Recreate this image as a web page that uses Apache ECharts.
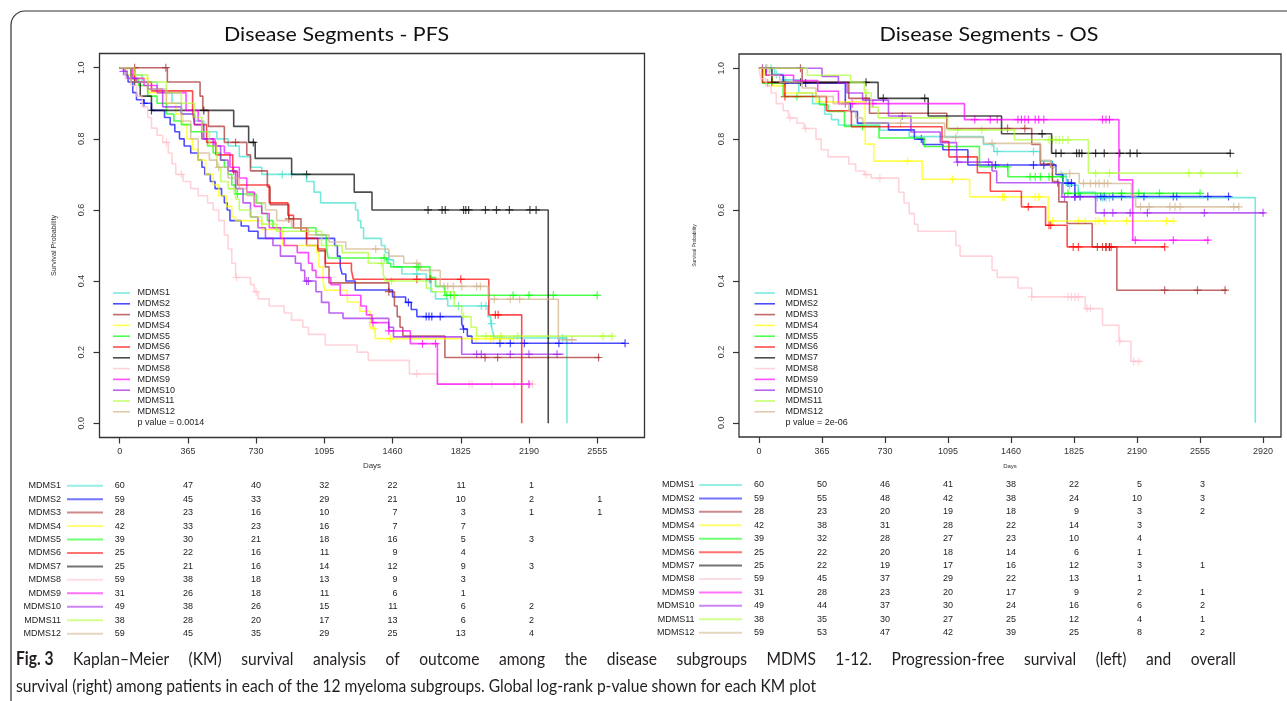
<!DOCTYPE html>
<html>
<head>
<meta charset="utf-8">
<script src="https://cdn.jsdelivr.net/npm/echarts@6/dist/echarts.min.js"></script>
<style>
  html, body { margin: 0; padding: 0; background: #fff; }
  #chart { width: 1287px; height: 701px; }
</style>
</head>
<body>
<div id="chart"></div>
<script>
// groups and colours
const groups = ['MDMS1','MDMS2','MDMS3','MDMS4','MDMS5','MDMS6','MDMS7','MDMS8','MDMS9','MDMS10','MDMS11','MDMS12'];
const colors = ['#40E0D0','#0000FF','#A52A2A','#FFFF00','#00FF00','#FF0000','#000000','#FFC0CB','#FF00FF','#A020F0','#ADFF2F','#D2B48C'];

// axis ticks
const pfsTicks = [0,365,730,1095,1460,1825,2190,2555];
const osTicks = [0,365,730,1095,1460,1825,2190,2555,2920];
const survTicks = [0,0.2,0.4,0.6,0.8,1.0];

// PFS step curves: [day, survival after step]
const pfs1 = [[0,1],[60,0.98],[120,0.96],[200,0.93],[280,0.9],[330,0.87],[400,0.85],[450,0.82],[520,0.8],[580,0.78],[640,0.75],[700,0.72],[760,0.7],[1000,0.68],[1040,0.65],[1075,0.62],[1262,0.6],[1275,0.57],[1290,0.55],[1305,0.52],[1400,0.5],[1420,0.48],[1440,0.46],[1465,0.44],[1510,0.42],[1640,0.4],[1665,0.37],[1690,0.35],[1755,0.33],[1970,0.3],[1985,0.28],[1995,0.26],[2005,0.24],[2393,0]];
const pfs2 = [[0,1],[30,0.98],[45,0.96],[70,0.93],[90,0.91],[130,0.9],[170,0.88],[240,0.86],[270,0.84],[295,0.82],[320,0.8],[345,0.78],[380,0.76],[420,0.74],[440,0.72],[455,0.7],[485,0.68],[510,0.66],[545,0.64],[560,0.62],[575,0.6],[590,0.57],[650,0.555],[690,0.54],[740,0.52],[1150,0.5],[1165,0.47],[1180,0.44],[1190,0.42],[1210,0.4],[1260,0.375],[1460,0.355],[1530,0.34],[1560,0.32],[1590,0.3],[1830,0.28],[1840,0.265],[1860,0.245],[1885,0.225],[2704,0.225]];
const pfs3 = [[0,1],[255,0.96],[430,0.92],[445,0.88],[475,0.835],[560,0.79],[680,0.755],[700,0.71],[790,0.665],[805,0.615],[905,0.575],[970,0.54],[1000,0.5],[1060,0.485],[1100,0.44],[1120,0.395],[1440,0.37],[1470,0.33],[1485,0.3],[1500,0.27],[1515,0.245],[1740,0.185],[2570,0.185]];
const pfs4 = [[0,1],[40,0.98],[80,0.97],[150,0.93],[250,0.9],[300,0.87],[340,0.84],[360,0.8],[390,0.77],[420,0.74],[460,0.7],[500,0.67],[530,0.64],[570,0.61],[600,0.58],[620,0.57],[760,0.545],[870,0.5],[1055,0.48],[1066,0.44],[1088,0.4],[1098,0.374],[1218,0.341],[1284,0.315],[1339,0.27],[1350,0.266],[1367,0.238],[2107,0.238]];
const pfs5 = [[0,1],[60,0.97],[100,0.95],[150,0.92],[200,0.9],[250,0.87],[290,0.85],[330,0.84],[380,0.82],[440,0.8],[470,0.78],[500,0.76],[540,0.74],[560,0.72],[580,0.7],[600,0.67],[620,0.645],[730,0.62],[760,0.59],[790,0.57],[820,0.55],[1050,0.53],[1105,0.5],[1115,0.465],[1430,0.45],[1450,0.44],[1660,0.41],[1690,0.385],[1740,0.36],[2555,0.36]];
const pfs6 = [[0,1],[80,0.96],[170,0.935],[390,0.88],[400,0.84],[465,0.79],[515,0.755],[605,0.707],[630,0.67],[800,0.62],[900,0.585],[930,0.55],[1000,0.52],[1060,0.49],[1100,0.45],[1240,0.43],[1250,0.405],[1975,0.305],[2151,0]];
const pfs7 = [[0,1],[60,0.96],[110,0.92],[170,0.88],[610,0.835],[690,0.79],[725,0.745],[920,0.7],[1255,0.65],[1350,0.6],[2293,0]];
const pfs8 = [[0,1],[30,0.97],[60,0.95],[90,0.92],[120,0.89],[150,0.86],[170,0.83],[200,0.81],[230,0.79],[260,0.76],[280,0.73],[300,0.7],[340,0.68],[380,0.66],[420,0.64],[470,0.62],[500,0.6],[530,0.57],[560,0.53],[580,0.49],[600,0.45],[620,0.41],[700,0.39],[720,0.37],[740,0.35],[800,0.33],[880,0.31],[920,0.29],[980,0.27],[1010,0.25],[1100,0.22],[1270,0.2],[1330,0.177],[1550,0.139],[1700,0.11],[2210,0.11]];
const pfs9 = [[0,1],[70,0.97],[130,0.95],[200,0.93],[355,0.88],[420,0.85],[440,0.8],[510,0.78],[560,0.76],[590,0.72],[640,0.69],[680,0.65],[720,0.61],[760,0.59],[800,0.55],[860,0.52],[880,0.5],[950,0.48],[1010,0.45],[1030,0.43],[1050,0.41],[1130,0.39],[1180,0.36],[1290,0.33],[1320,0.305],[1350,0.283],[1440,0.26],[1555,0.224],[1700,0.11],[2197,0.11]];
const pfs10 = [[0,1],[20,0.99],[40,0.97],[90,0.96],[150,0.94],[230,0.89],[330,0.87],[400,0.84],[450,0.8],[500,0.78],[540,0.74],[580,0.71],[620,0.66],[660,0.62],[700,0.58],[740,0.55],[780,0.52],[820,0.5],[860,0.47],[940,0.45],[970,0.43],[990,0.4],[1050,0.37],[1080,0.34],[1120,0.31],[1195,0.295],[1440,0.27],[1465,0.243],[1830,0.194],[2375,0.194]];
const pfs11 = [[0,1],[80,0.98],[150,0.96],[250,0.93],[330,0.9],[400,0.86],[440,0.82],[480,0.78],[520,0.72],[540,0.68],[580,0.66],[620,0.63],[640,0.6],[700,0.58],[760,0.56],[840,0.54],[1080,0.5],[1190,0.48],[1330,0.45],[1410,0.42],[1420,0.4],[1640,0.38],[1670,0.37],[1790,0.33],[1830,0.3],[1880,0.27],[1910,0.245],[2640,0.245]];
const pfs12 = [[0,1],[60,0.96],[150,0.94],[250,0.9],[330,0.85],[380,0.8],[420,0.76],[480,0.74],[520,0.72],[580,0.69],[640,0.66],[680,0.64],[720,0.62],[780,0.6],[840,0.57],[920,0.55],[1010,0.53],[1120,0.51],[1210,0.49],[1440,0.47],[1520,0.45],[1610,0.43],[1715,0.385],[1972,0.349],[2347,0.235],[2447,0.235]];

// PFS censoring days
const pfsCens1 = [870,920,1440,1590,1813,1935,1960,1990,2370];
const pfsCens2 = [130,1545,1640,1655,1670,1715,1840,2035,2090,2165,2350,2704];
const pfsCens3 = [80,247,620,905,1440,1955,2022,2562];
const pfsCens4 = [1360,1448,1906,1983,2000,2040,2107];
const pfsCens5 = [630,1415,1590,1600,1750,1770,1790,2105,2190,2320,2555];
const pfsCens6 = [1590,1660,1665,1825,2010,2025];
const pfsCens7 = [80,170,450,715,1000,1650,1725,1742,1840,1852,1867,1957,2016,2085,2195,2228];
const pfsCens8 = [250,330,625,730,1590,1870,1885,1990,2110,2190,2210];
const pfsCens9 = [1355,1440,1620,1690,2190];
const pfsCens10 = [20,610,1000,1010,1910,1935,2090,2190,2340];
const pfsCens11 = [610,1400,1455,1840,1960,2000,2040,2130,2585,2635];
const pfsCens12 = [530,1370,1590,1735,1755,1785,1830,1910,1930,2005,2090,2140,2390,2420];

// OS step curves
const os1 = [[0,1],[90,0.983],[140,0.967],[230,0.93],[310,0.9],[380,0.87],[420,0.855],[460,0.84],[700,0.825],[870,0.807],[1300,0.785],[1360,0.765],[1630,0.738],[1700,0.72],[1720,0.7],[1780,0.67],[1850,0.65],[1950,0.635],[2875,0]];
const os2 = [[0,1],[40,0.98],[140,0.958],[500,0.902],[530,0.878],[570,0.845],[750,0.826],[900,0.8],[950,0.785],[1065,0.77],[1210,0.727],[1720,0.7],[1760,0.676],[1830,0.638],[2735,0.638]];
const os3 = [[0,1],[250,0.96],[520,0.915],[640,0.873],[1088,0.83],[1580,0.785],[1630,0.73],[1700,0.68],[1737,0.623],[1785,0.562],[1930,0.496],[2073,0.374],[2710,0.374]];
const os4 = [[0,1],[30,0.98],[80,0.95],[150,0.93],[330,0.905],[615,0.786],[665,0.738],[945,0.687],[1220,0.637],[1675,0.569],[2410,0.569]];
const os5 = [[0,1],[20,0.958],[140,0.92],[350,0.897],[400,0.878],[495,0.836],[695,0.803],[957,0.779],[1277,0.722],[1442,0.694],[1762,0.647],[2556,0.647]];
const os6 = [[0,1],[20,0.96],[150,0.92],[390,0.88],[535,0.835],[1060,0.793],[1100,0.75],[1265,0.705],[1340,0.653],[1520,0.609],[1660,0.557],[1785,0.496],[2350,0.496]];
const os7 = [[0,1],[75,0.96],[690,0.915],[980,0.865],[1405,0.815],[1695,0.76],[2735,0.76]];
const os8 = [[0,1],[10,0.97],[40,0.95],[70,0.93],[100,0.9],[140,0.88],[170,0.86],[220,0.845],[260,0.83],[330,0.8],[360,0.77],[400,0.75],[520,0.73],[560,0.71],[610,0.7],[650,0.69],[810,0.65],[840,0.62],[870,0.59],[900,0.56],[920,0.54],[1140,0.5],[1165,0.47],[1350,0.43],[1380,0.41],[1500,0.38],[1580,0.355],[1890,0.322],[1990,0.275],[2085,0.23],[2155,0.173],[2218,0.173]];
const os9 = [[0,1],[40,0.98],[200,0.965],[340,0.935],[460,0.9],[1190,0.855],[2085,0.685],[2165,0.515],[2610,0.515]];
const os10 = [[0,1],[365,0.977],[460,0.958],[510,0.93],[600,0.91],[750,0.865],[880,0.82],[1050,0.79],[1145,0.735],[1350,0.71],[1377,0.677],[1755,0.637],[1950,0.592],[2930,0.592]];
const os11 = [[0,1],[280,0.98],[530,0.96],[610,0.93],[650,0.89],[690,0.86],[1093,0.826],[1480,0.798],[1908,0.704],[2770,0.704]];
const os12 = [[0,1],[60,0.98],[120,0.96],[250,0.944],[330,0.92],[430,0.9],[520,0.88],[560,0.86],[600,0.845],[1076,0.805],[1300,0.788],[1630,0.74],[1690,0.72],[1720,0.703],[1855,0.675],[2158,0.64],[2182,0.609],[2783,0.609]];

// OS censoring days
const osCens1 = [40,70,100,150,1380,1590,1750,1800,1960,1990,2010,2030];
const osCens2 = [150,270,940,1370,1590,1650,1700,1790,1810,1830,1860,1980,2000,2050,2100,2230,2400,2420,2600,2720];
const osCens3 = [240,620,1440,1540,1690,1960,1990,2010,2030,2350,2540,2700];
const osCens4 = [20,860,1120,1410,1420,1600,1620,1700,1850,1890,1950,1970,2000,2130,2360,2400];
const osCens5 = [50,220,600,1440,1570,1600,1630,1680,1700,1760,1790,1850,2100,2200,2320,2555];
const osCens6 = [150,1560,1680,1690,1820,1850,2010,2030,2040,2350];
const osCens7 = [75,240,620,720,960,1640,1720,1750,1840,1855,1870,1950,2000,2090,2150,2190,2730];
const osCens8 = [180,270,620,700,1580,1790,1810,1830,1850,1900,1920,2090,2170,2200];
const osCens9 = [500,540,660,1250,1340,1380,1500,1520,1540,1560,1600,1620,1650,1990,2010,2030,2180,2400,2600];
const osCens10 = [20,830,1150,1330,1730,1770,1830,2000,2050,2150,2250,2580,2920];
const osCens11 = [50,620,1150,1290,1680,1700,1720,1740,1760,1790,1950,2030,2490,2560,2770];
const osCens12 = [40,150,820,1140,1350,1800,1880,1920,1950,1970,2000,2020,2210,2260,2380,2410,2440,2750,2780];

// numbers at risk (columns at the tick days)
const pfsAtRisk = [
  [60,47,40,32,22,11,1],
  [59,45,33,29,21,10,2,1],
  [28,23,16,10,7,3,1,1],
  [42,33,23,16,7,7],
  [39,30,21,18,16,5,3],
  [25,22,16,11,9,4],
  [25,21,16,14,12,9,3],
  [59,38,18,13,9,3],
  [31,26,18,11,6,1],
  [49,38,26,15,11,6,2],
  [38,28,20,17,13,6,2],
  [59,45,35,29,25,13,4]
];
const osAtRisk = [
  [60,50,46,41,38,22,5,3],
  [59,55,48,42,38,24,10,3],
  [28,23,20,19,18,9,3,2],
  [42,38,31,28,22,14,3],
  [39,32,28,27,23,10,4],
  [25,22,20,18,14,6,1],
  [25,22,19,17,16,12,3,1],
  [59,45,37,29,22,13,1],
  [31,28,23,20,17,9,2,1],
  [49,44,37,30,24,16,6,2],
  [38,35,30,27,25,12,4,1],
  [59,53,47,42,39,25,8,2]
];

const pfsPValue = 'p value = 0.0014';
const osPValue = 'p value = 2e-06';

const pfsCurves = [pfs1,pfs2,pfs3,pfs4,pfs5,pfs6,pfs7,pfs8,pfs9,pfs10,pfs11,pfs12];
const osCurves = [os1,os2,os3,os4,os5,os6,os7,os8,os9,os10,os11,os12];
const pfsCens = [pfsCens1,pfsCens2,pfsCens3,pfsCens4,pfsCens5,pfsCens6,pfsCens7,pfsCens8,pfsCens9,pfsCens10,pfsCens11,pfsCens12];
const osCens = [osCens1,osCens2,osCens3,osCens4,osCens5,osCens6,osCens7,osCens8,osCens9,osCens10,osCens11,osCens12];

const FONT = '"Liberation Sans", Arial, sans-serif';
const TITLE_FONT = 'Lato, "Open Sans", sans-serif';
const plus = 'path://M-1.5,-10H1.5V-1.5H10V1.5H1.5V10H-1.5V1.5H-10V-1.5H-1.5Z';
const LINE_OPACITY = 0.7;

// survival value at a given day from a step curve
function survAt(curve, d) {
  let s = curve[0][1];
  for (const p of curve) {
    if (p[0] <= d) s = p[1];
  }
  return s;
}

function xAx(grid, min, max, ticks, nameSize, nameGap) {
  return {
    type: 'value', gridIndex: grid, min: min, max: max,
    axisLine: { show: false, onZero: false },
    splitLine: { show: false },
    axisTick: { show: true, customValues: ticks, length: 6, lineStyle: { color: '#333', width: 1.2 } },
    axisLabel: {
      customValues: ticks, fontSize: 9, color: '#333', margin: 10, fontFamily: FONT,
      formatter: function (v) { return String(v); }
    },
    name: 'Days', nameLocation: 'middle', nameGap: nameGap,
    nameTextStyle: { fontSize: nameSize, color: '#333', fontFamily: FONT }
  };
}

function yAx(grid, nameSize) {
  return {
    type: 'value', gridIndex: grid, min: -0.04, max: 1.04,
    axisLine: { show: false, onZero: false },
    splitLine: { show: false },
    axisTick: { show: true, customValues: survTicks, length: 6, lineStyle: { color: '#333', width: 1.2 } },
    axisLabel: {
      customValues: survTicks, fontSize: 9, color: '#333', margin: 13, rotate: 90,
      fontFamily: FONT, formatter: function (v) { return v.toFixed(1); }
    },
    name: 'Survival Probability', nameLocation: 'middle', nameGap: 42,
    nameTextStyle: { fontSize: nameSize, color: '#333', fontFamily: FONT }
  };
}

function buildSeries(curves, cens, axis) {
  const out = [];
  curves.forEach(function (curve, i) {
    out.push({
      type: 'line', name: groups[i], xAxisIndex: axis, yAxisIndex: axis,
      data: curve, step: 'end', showSymbol: false, symbol: 'none',
      silent: true, animation: false, clip: true,
      lineStyle: { color: colors[i], width: 1.6, opacity: LINE_OPACITY }
    });
    out.push({
      type: 'scatter', xAxisIndex: axis, yAxisIndex: axis,
      data: cens[i].map(function (d) { return [d, survAt(curve, d)]; }),
      symbol: plus, symbolSize: 8, silent: true, animation: false,
      itemStyle: { color: colors[i], opacity: LINE_OPACITY }
    });
  });
  return out;
}

const chart = echarts.init(document.getElementById('chart'));

let option = {
  backgroundColor: '#fff',
  animation: false,
  grid: [
    { left: 99.5, top: 53.5, width: 545, height: 384, show: true, borderColor: '#333', borderWidth: 1.3, outerBoundsMode: 'none' },
    { left: 739, top: 54, width: 542, height: 383, show: true, borderColor: '#333', borderWidth: 1.3, outerBoundsMode: 'none' }
  ],
  xAxis: [
    xAx(0, -108, 2808, pfsTicks, 8, 24),
    xAx(1, -116, 3024, osTicks, 6, 26)
  ],
  yAxis: [
    yAx(0, 7.2),
    yAx(1, 5)
  ],
  series: buildSeries(pfsCurves, pfsCens, 0).concat(buildSeries(osCurves, osCens, 1))
};
chart.setOption(option);

// text measuring for fitted fonts
const ctx = document.createElement('canvas').getContext('2d');
function measure(text, font) { ctx.font = font; return ctx.measureText(text).width; }

const graphics = [];

// outer frame of the figure
graphics.push({
  type: 'rect', silent: true,
  shape: { x: 11, y: 11, width: 1400, height: 800, r: 14 },
  style: { fill: 'none', stroke: '#333', lineWidth: 1.2 }
});

// titles
function title(text, cx, width) {
  const w = measure(text, '20px ' + TITLE_FONT);
  graphics.push({
    type: 'text', x: cx, y: 35, scaleX: width / w, silent: true,
    style: { text: text, x: 0, y: 0, align: 'center', verticalAlign: 'middle', font: '20px ' + TITLE_FONT, fill: '#111' }
  });
}
title('Disease Segments - PFS', 336.5, 225);
title('Disease Segments - OS', 989, 219);

// in-plot legends
function legend(x0, lineLen, textX, pText) {
  groups.forEach(function (g, i) {
    const y = 293 + i * 10.8;
    graphics.push({
      type: 'line', silent: true,
      shape: { x1: x0, y1: y, x2: x0 + lineLen, y2: y },
      style: { stroke: colors[i], lineWidth: 1.6, opacity: LINE_OPACITY }
    });
    graphics.push({
      type: 'text', silent: true,
      style: { text: g, x: textX, y: y, align: 'left', verticalAlign: 'middle', font: '9px ' + FONT, fill: '#222' }
    });
  });
  graphics.push({
    type: 'text', silent: true,
    style: { text: pText, x: textX, y: 423, align: 'left', verticalAlign: 'middle', font: '9px ' + FONT, fill: '#222' }
  });
}
legend(113, 17, 137.5, pfsPValue);
legend(754.5, 20.5, 785.5, osPValue);

// risk tables
function riskTable(axis, ticks, table, labelRight, lineX0, lineX1, y0, dy) {
  table.forEach(function (row, i) {
    const y = y0 + i * dy;
    graphics.push({
      type: 'text', silent: true,
      style: { text: groups[i], x: labelRight, y: y, align: 'right', verticalAlign: 'middle', font: '9px ' + FONT, fill: '#222' }
    });
    graphics.push({
      type: 'line', silent: true,
      shape: { x1: lineX0, y1: y, x2: lineX1, y2: y },
      style: { stroke: colors[i], lineWidth: 2, opacity: 0.55 }
    });
    row.forEach(function (n, j) {
      const px = chart.convertToPixel({ xAxisIndex: axis }, ticks[j]);
      graphics.push({
        type: 'text', silent: true,
        style: { text: String(n), x: px + 5, y: y, align: 'right', verticalAlign: 'middle', font: '9px ' + FONT, fill: '#222' }
      });
    });
  });
}
riskTable(0, pfsTicks, pfsAtRisk, 61, 67, 103, 485.7, 13.45);
riskTable(1, osTicks, osAtRisk, 694.5, 699, 742, 485, 13.43);

// caption: first line justified, last line natural width
const capLead = 'Fig. 3';
const cap1 = 'Kaplan\u2013Meier (KM) survival analysis of outcome among the disease subgroups MDMS 1-12. Progression-free survival (left) and overall';
const cap2 = 'survival (right) among patients in each of the 12 myeloma subgroups. Global log-rank p-value shown for each KM plot';
const capSize = 18;
const capFont = capSize + 'px ' + TITLE_FONT;
const capBold = 'bold ' + capFont;
const capScale = 800 / measure(cap2, capFont);
const words = [{ t: capLead, f: capBold }].concat(cap1.split(' ').map(function (w) { return { t: w, f: capFont }; }));
let natural = 0;
words.forEach(function (w) { w.w = measure(w.t, w.f) * capScale; natural += w.w; });
const gap = (1220 - natural) / (words.length - 1);
let cx = 16;
words.forEach(function (w) {
  graphics.push({
    type: 'text', x: cx, y: 659, scaleX: capScale, silent: true,
    style: { text: w.t, x: 0, y: 0, align: 'left', verticalAlign: 'middle', font: w.f, fill: '#231f20' }
  });
  cx += w.w + gap;
});
graphics.push({
  type: 'text', x: 16, y: 686, scaleX: capScale, silent: true,
  style: { text: cap2, x: 0, y: 0, align: 'left', verticalAlign: 'middle', font: capFont, fill: '#231f20' }
});

chart.setOption({ graphic: graphics });
</script>
</body>
</html>
